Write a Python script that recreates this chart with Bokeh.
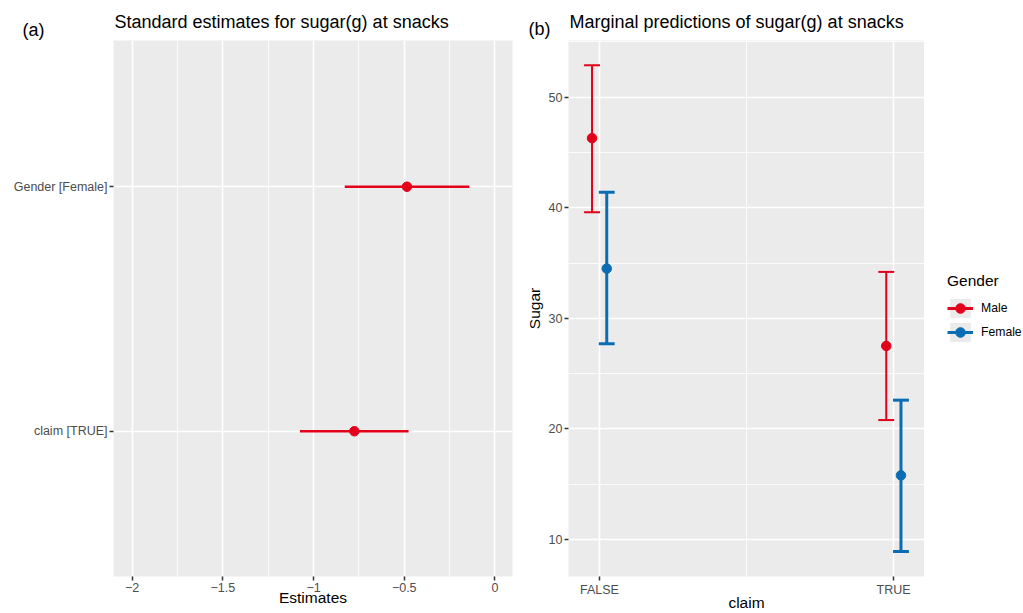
from bokeh.plotting import figure
from bokeh.models import FixedTicker, Legend, LegendItem, Range1d
from bokeh.layouts import row, column
from bokeh.core.properties import value
from bokeh.embed import file_html
from bokeh.resources import INLINE

FONT = "Liberation Sans"
RED = "#E2001A"
BLUE = "#0A6DB3"

# ---------------- Panel (a) data ----------------
terms = ["Gender [Female]", "claim [TRUE]"]
term_pos = [2, 1]
estimates = [-0.485, -0.775]
est_low = [-0.828, -1.075]
est_high = [-0.141, -0.476]
est_ticks = [-2, -1.5, -1, -0.5, 0]
est_tick_labels = ["\u22122", "\u22121.5", "\u22121", "\u22120.5", "0"]
est_minor = [-1.75, -1.25, -0.75, -0.25]

# ---------------- Panel (b) data ----------------
claims = ["FALSE", "TRUE"]
claim_pos = [1, 2]
male_pred = [46.3, 27.5]
male_low = [39.6, 20.8]
male_high = [52.9, 34.2]
female_pred = [34.5, 15.8]
female_low = [27.7, 8.9]
female_high = [41.4, 22.6]
sugar_ticks = [10, 20, 30, 40, 50]
sugar_minor = [15, 25, 35, 45, 55]
genders = ["Male", "Female"]

# ---------------- Header texts ----------------
header_texts = ["(a)", "Standard estimates for sugar(g) at snacks",
                "(b)", "Marginal predictions of sugar(g) at snacks"]
header_x = [22, 114, 528, 569]
header_y = [29, 21, 28, 21]


def style(p):
    p.background_fill_color = "#EBEBEB"
    p.border_fill_color = "white"
    p.outline_line_color = None
    for ax in (p.xaxis[0], p.yaxis[0]):
        ax.axis_line_color = None
        ax.major_tick_line_color = "#333333"
        ax.major_tick_line_width = 1.5
        ax.major_tick_out = 4
        ax.major_tick_in = 0
        ax.minor_tick_line_color = None
        ax.major_label_text_font = FONT
        ax.major_label_text_font_size = "12.5px"
        ax.major_label_text_color = "#4D4D4D"
        ax.axis_label_text_font = FONT
        ax.axis_label_text_font_size = "15.5px"
        ax.axis_label_text_font_style = "normal"
        ax.axis_label_text_color = "black"
        ax.major_label_standoff = 2
    p.xaxis[0].axis_label_standoff = -6
    p.yaxis[0].axis_label_standoff = 3
    for g in p.grid:
        g.grid_line_color = "white"
        g.grid_line_width = 1.6
        g.minor_grid_line_color = "white"
        g.minor_grid_line_width = 0.8


def blank(p):
    p.outline_line_color = None
    p.grid.visible = False
    p.background_fill_color = "white"
    p.border_fill_color = "white"


# ---------------- Header ----------------
head = figure(width=1023, height=40, x_range=Range1d(0, 1023), y_range=Range1d(40, 0),
              x_axis_type=None, y_axis_type=None, output_backend="svg", toolbar_location=None,
              title=None, min_border=0)
blank(head)
head.text(x=header_x, y=header_y, text=header_texts,
          text_font=value(FONT), text_font_size="18px", text_color="black",
          text_baseline="alphabetic", text_align="left")

# ---------------- Panel (a) ----------------
pa = figure(width=520, height=573, x_range=Range1d(-2.103, 0.097), y_range=Range1d(0.406, 2.598),
            output_backend="svg", toolbar_location=None, title=None,
            min_border_left=113, min_border_right=8, min_border_top=0, min_border_bottom=0)
style(pa)
pa.xaxis.ticker = FixedTicker(ticks=est_ticks, minor_ticks=est_minor)
pa.xaxis.major_label_overrides = {float(t): l for t, l in zip(est_ticks, est_tick_labels)}
pa.yaxis.ticker = FixedTicker(ticks=term_pos, minor_ticks=[])
pa.yaxis.major_label_overrides = {float(t): l for t, l in zip(term_pos, terms)}
pa.xaxis.axis_label = "Estimates"

pa.segment(x0=est_low, y0=term_pos, x1=est_high, y1=term_pos, line_color=RED, line_width=2.5)
pa.scatter(x=estimates, y=term_pos, size=9.5, color=RED)

# ---------------- Panel (b) ----------------
pb = figure(width=404, height=573, x_range=Range1d(0.895, 2.105), y_range=Range1d(6.65, 55.13),
            output_backend="svg", toolbar_location=None, title=None,
            min_border_left=48, min_border_right=0, min_border_top=0, min_border_bottom=0)
style(pb)
pb.xaxis.ticker = FixedTicker(ticks=claim_pos, minor_ticks=[1.5])
pb.xaxis.major_label_overrides = {float(t): l for t, l in zip(claim_pos, claims)}
pb.yaxis.ticker = FixedTicker(ticks=sugar_ticks, minor_ticks=sugar_minor)
pb.xaxis.axis_label = "claim"
pb.yaxis.axis_label = "Sugar"

dodge = 0.025
cap = 0.027
mx = [c - dodge for c in claim_pos]
fx = [c + dodge for c in claim_pos]

pb.segment(x0=mx, y0=male_low, x1=mx, y1=male_high, line_color=RED, line_width=2)
pb.segment(x0=[x - cap for x in mx] * 2, y0=male_low + male_high,
           x1=[x + cap for x in mx] * 2, y1=male_low + male_high, line_color=RED, line_width=2)
pb.scatter(x=mx, y=male_pred, size=9.5, color=RED)

pb.segment(x0=fx, y0=female_low, x1=fx, y1=female_high, line_color=BLUE, line_width=3)
pb.segment(x0=[x - cap for x in fx] * 2, y0=female_low + female_high,
           x1=[x + cap for x in fx] * 2, y1=female_low + female_high, line_color=BLUE, line_width=3)
pb.scatter(x=fx, y=female_pred, size=9.5, color=BLUE)

# ---------------- Legend strip (its glyphs lie outside its visible range) ----------------
pl = figure(width=99, height=573, x_range=Range1d(-20, -19), y_range=Range1d(0, 1),
            x_axis_type=None, y_axis_type=None, output_backend="svg", toolbar_location=None,
            title=None, min_border=0)
blank(pl)
items = []
for name, xs, lo, hi, pred, col in [(genders[0], mx, male_low, male_high, male_pred, RED),
                                    (genders[1], fx, female_low, female_high, female_pred, BLUE)]:
    kb = pl.quad(left=xs, right=xs, bottom=lo, top=hi, fill_color="#EBEBEB", line_color=None)
    sg = pl.segment(x0=xs, y0=lo, x1=xs, y1=hi, line_color=col, line_width=3)
    dt = pl.scatter(x=xs, y=pred, size=9.5, color=col)
    items.append(LegendItem(label=name, renderers=[kb, sg, dt]))

legend = Legend(items=items, title="Gender", location=(23, 232), orientation="vertical",
                padding=0, margin=0, spacing=0, glyph_width=26, glyph_height=24,
                label_standoff=8, label_text_font=FONT, label_text_font_size="12.2px",
                label_text_color="black", title_text_font=FONT, title_text_font_size="15.5px",
                title_text_font_style="normal", title_text_color="black", title_standoff=6,
                border_line_color=None, background_fill_alpha=0)
pl.add_layout(legend)

layout = column(head, row(pa, pb, pl))
open("out.html", "w").write(file_html(layout, INLINE))
